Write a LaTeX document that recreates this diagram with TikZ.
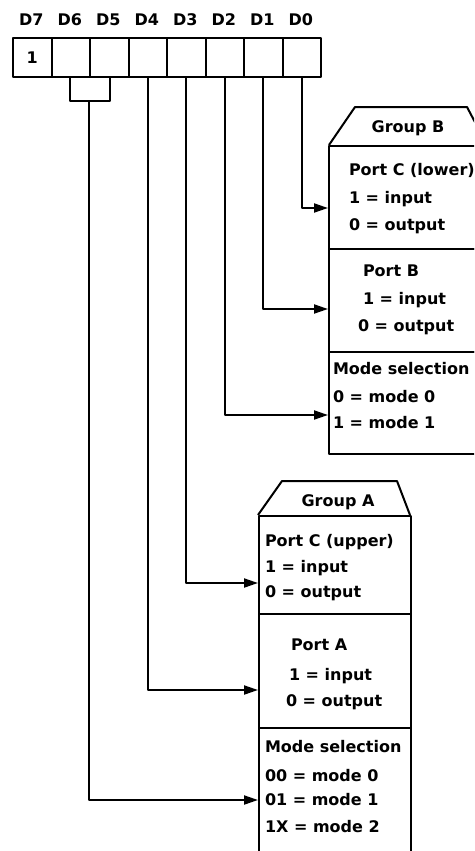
\documentclass[tikz,border=0pt]{standalone}
\usepackage{fontspec}
\setmainfont{DejaVu Sans}
\usetikzlibrary{arrows.meta}
\begin{document}
\begin{tikzpicture}[x=1pt,y=-1pt,line width=2pt,line join=round,
  lbl/.style={font=\bfseries\fontsize{16}{19}\selectfont,inner sep=0pt},
  txt/.style={lbl,anchor=base west},
  cell/.style={draw,line width=2pt,minimum width=38.5pt,minimum height=39pt,inner sep=0pt,anchor=north west},
  sect/.style={draw,line width=2pt,anchor=north west,inner sep=0pt},
  arr/.style={line width=2pt,-{Triangle[length=14pt,width=9pt]}}]
\useasboundingbox (0,0) rectangle (474,851);
\clip (0,0) rectangle (474,851);
% register
\foreach \i/\n in {0/7,1/6,2/5,3/4,4/3,5/2,6/1,7/0}{
  \node[cell] (c\n) at ({12+38.5*\i},37) {};
  \node[lbl,anchor=base] (d\n) at ({31.25+38.5*\i},26) {D\n};
}
\node[lbl] (one) at (c7) {1};
% D6/D5 bracket
\draw (70,76) -- (70,101) -- (110,101) -- (110,76);
\coordinate (br) at (89,101);
% Group B
\draw (329,145) -- (355,107) -- (467,107) -- (487,145);
\node[lbl,anchor=base] (gb) at (408,132) {Group B};
\node[sect,minimum width=160pt,minimum height=103pt] (pcl) at (328,145) {};
\node[sect,minimum width=160pt,minimum height=103pt] (pb) at (328,248) {};
\node[sect,minimum width=160pt,minimum height=102pt] (msb) at (328,351) {};
\node[txt] at (348,175) {Port C (lower)};
\node[txt] at (348,203) {1 = input};
\node[txt] at (348,230) {0 = output};
\node[txt] at (362,276) {Port B};
\node[txt] at (362,304) {1 = input};
\node[txt] at (357,331) {0 = output};
\node[txt] at (332,374) {Mode selection};
\node[txt] at (332,402) {0 = mode 0};
\node[txt] at (332,428) {1 = mode 1};
% Group A
\draw (258,515) -- (282,481) -- (397,481) -- (410,515);
\node[lbl,anchor=base] (ga) at (338,506) {Group A};
\node[sect,minimum width=152pt,minimum height=98pt] (pcu) at (258,515) {};
\node[sect,minimum width=152pt,minimum height=114pt] (pa) at (258,613) {};
\node[sect,minimum width=152pt,minimum height=150pt] (msa) at (258,727) {};
\node[txt] at (264,546) {Port C (upper)};
\node[txt] at (264,572) {1 = input};
\node[txt] at (264,597) {0 = output};
\node[txt] at (290,650) {Port A};
\node[txt] at (288,680) {1 = input};
\node[txt] at (285,706) {0 = output};
\node[txt] at (264,752) {Mode selection};
\node[txt] at (264,781) {00 = mode 0};
\node[txt] at (264,805) {01 = mode 1};
\node[txt] at (264,832) {1X = mode 2};
% arrow levels
\coordinate (y0) at (0,208);
\coordinate (y1) at (0,309);
\coordinate (y2) at (0,415);
\coordinate (y3) at (0,583);
\coordinate (y4) at (0,690);
\coordinate (y6) at (0,800);
% connectors
\draw[arr] (c0.south) |- (pcl.west |- y0);
\draw[arr] (c1.south) |- (pb.west |- y1);
\draw[arr] (c2.south) |- (msb.west |- y2);
\draw[arr] (c3.south) |- (pcu.west |- y3);
\draw[arr] (c4.south) |- (pa.west |- y4);
\draw[arr] (br) |- (msa.west |- y6);
\end{tikzpicture}
\end{document}
